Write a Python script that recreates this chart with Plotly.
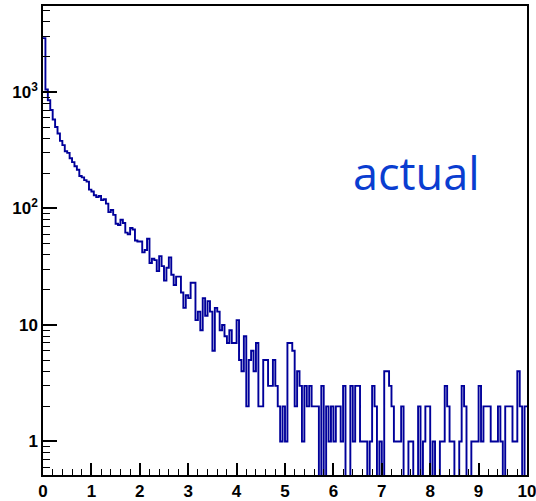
import numpy as np
import plotly.graph_objects as go

# Histogram: 200 bins of width 0.05 over [0, 10]
x_min = 0.0
x_max = 10.0
n_bins = 200

counts = [
    2900, 1050, 850, 700, 580, 500, 440, 380, 350, 310,
    300, 270, 250, 230, 215, 190, 185, 175, 170, 145,
    140, 130, 125, 128, 118, 120, 110, 93, 97, 88,
    74, 72, 80, 75, 62, 60, 68, 66, 53, 52,
    52, 42, 44, 55, 34, 37, 36, 29, 39, 32,
    24, 31, 38, 27, 22, 26, 26, 19, 14, 18,
    17, 23, 23, 11, 13, 9, 17, 12, 16, 13,
    6, 14, 13, 9, 10, 8, 7, 9, 7, 7,
    11, 5, 4, 8, 2, 5, 6, 4, 7, 2,
    2, 5, 5, 3, 3, 5, 3, 2, 1, 2,
    1, 7, 7, 6, 2, 4, 3, 1, 3, 2,
    3, 2, 2, 2, 0, 3, 0, 2, 1, 2,
    1, 2, 2, 1, 3, 0, 0, 3, 1, 3,
    3, 1, 1, 1, 0, 1, 3, 2, 0, 1,
    0, 4, 4, 3, 2, 1, 1, 1, 2, 0,
    0, 1, 1, 0, 0, 2, 0, 1, 2, 2,
    0, 1, 0, 0, 1, 1, 3, 2, 1, 1,
    0, 0, 1, 3, 2, 0, 0, 1, 1, 1,
    3, 1, 2, 2, 2, 1, 1, 1, 2, 1,
    0, 2, 2, 2, 1, 1, 4, 2, 0, 2,
]

y_tick_vals = [1, 10, 100, 1000]
y_tick_text = ["1", "10", "10<sup>2</sup>", "10<sup>3</sup>"]
x_tick_vals = list(range(0, 11))
x_tick_text = [str(v) for v in x_tick_vals]

label_text = "actual"

edges = np.linspace(x_min, x_max, n_bins + 1)
c = np.asarray(counts, dtype=float)
# empty bins drop to the bottom of the frame on the log scale
c_draw = np.where(c > 0, c, 0.05)
xs = edges
ys = np.append(c_draw, c_draw[-1])

fig = go.Figure()
fig.add_trace(go.Scatter(
    x=xs, y=ys, mode="lines", line_shape="hv",
    line=dict(color="#00009a", width=1.9),
    hoverinfo="skip", showlegend=False,
))

minor_y = [m * 10 ** d for d in range(-1, 4) for m in range(2, 10)]
minor_y = [v for v in minor_y if 0.5 <= v <= 5500]
minor_x = [round(v, 2) for v in np.arange(0, 10.001, 0.2) if abs(v - round(v)) > 1e-6]

tick_font = dict(family="Liberation Sans, Arial, sans-serif", size=17,
                 color="black", weight="bold")

fig.update_layout(
    width=536, height=501,
    margin=dict(l=43, r=9, t=6, b=26),
    paper_bgcolor="white", plot_bgcolor="white",
    xaxis=dict(
        range=[x_min - 1e-6, x_max + 1e-6], showgrid=False, zeroline=False,
        automargin=False, ticklabeloverflow="allow",
        showline=True, linecolor="black", linewidth=1.5, mirror=True,
        ticks="inside", ticklen=12, tickwidth=1.5, tickcolor="black",
        tickvals=x_tick_vals, ticktext=x_tick_text, tickfont=tick_font,
        ticklabelstandoff=0,
        minor=dict(tickvals=minor_x, ticks="inside", ticklen=6,
                   tickwidth=1.2, tickcolor="black", showgrid=False),
    ),
    yaxis=dict(
        type="log", range=[np.log10(0.515), np.log10(5470)],
        showgrid=False, zeroline=False, automargin=False,
        ticklabeloverflow="allow",
        showline=True, linecolor="black", linewidth=1.5, mirror=True,
        ticks="inside", ticklen=14, tickwidth=1.5, tickcolor="black",
        tickvals=y_tick_vals, ticktext=y_tick_text, tickfont=tick_font,
        minor=dict(tickvals=minor_y, ticks="inside", ticklen=7,
                   tickwidth=1.2, tickcolor="black", showgrid=False),
    ),
    annotations=[dict(
        text=label_text, xref="paper", yref="paper",
        x=(416 - 43) / (527 - 43), y=1 - (172 - 6) / (475 - 6),
        xanchor="center", yanchor="middle", showarrow=False,
        font=dict(family="Open Sans, Noto Sans, sans-serif", size=45,
                  color="#0a3dd0"),
    )],
)

fig.write_html("out.html")
